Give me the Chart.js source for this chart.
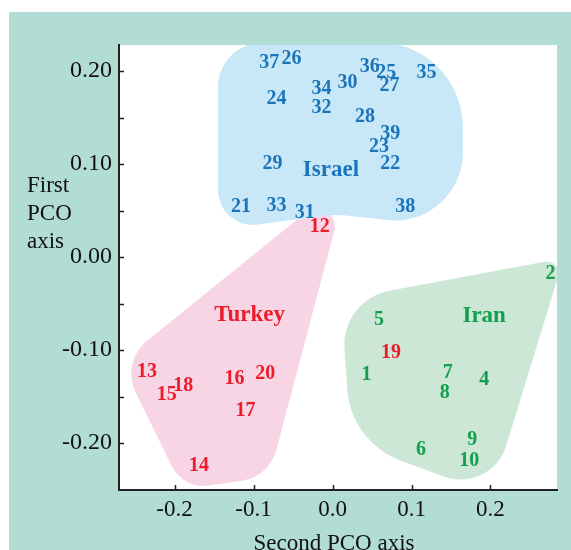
<!DOCTYPE html>
<html>
<head>
<meta charset="utf-8">
<script src="https://cdn.jsdelivr.net/npm/chart.js@4.4.1/dist/chart.umd.min.js"></script>
<style>
  html, body { margin: 0; padding: 0; background: #fff; }
  canvas { display: block; }
</style>
</head>
<body>
<canvas id="pco" width="571" height="550"></canvas>
<script>
// Point labels (sample numbers) and their PCO coordinates
const israelIds = ['37','26','36','25','35','34','30','27','24','32','28','39','23','22','29','21','33','31','38'];
const israelX = [-0.080,-0.052,0.047,0.068,0.119,-0.014,0.019,0.072,-0.071,-0.014,0.041,0.073,0.059,0.073,-0.076,-0.116,-0.071,-0.035,0.092];
const israelY = [0.209,0.213,0.205,0.198,0.198,0.181,0.187,0.184,0.170,0.160,0.151,0.132,0.119,0.100,0.100,0.054,0.055,0.048,0.054];

const turkeyIds = ['12','13','18','15','16','20','17','14','19'];
const turkeyX = [-0.016,-0.235,-0.189,-0.210,-0.124,-0.085,-0.110,-0.169,0.074];
const turkeyY = [0.033,-0.123,-0.138,-0.148,-0.131,-0.126,-0.165,-0.224,-0.103];

const iranIds = ['2','5','1','7','8','4','9','6','10'];
const iranX = [0.276,0.059,0.043,0.146,0.142,0.192,0.177,0.112,0.173];
const iranY = [-0.018,-0.068,-0.127,-0.125,-0.146,-0.132,-0.197,-0.207,-0.219];

// Group names and where they sit
const groupNames = ['Israel','Turkey','Iran'];
const groupX = [-0.002,-0.105,0.192];
const groupY = [0.093,-0.062,-0.064];

// Outline corners of the shaded regions (data units)
const israelHullX = [-0.145,0.165,0.165,0.001,-0.145];
const israelHullY = [0.231,0.231,0.031,0.046,0.029];
const turkeyHullX = [0.020,-0.268,-0.189,-0.080];
const turkeyHullY = [0.085,-0.113,-0.250,-0.236];
const iranHullX = [0.293,0.011,0.023,0.201];
const iranHullY = [-0.001,-0.046,-0.199,-0.255];

// Axes
const xTicks = [-0.2,-0.1,0.0,0.1,0.2];
const yTicks = [-0.2,-0.1,0.0,0.1,0.2];
const yMinorTicks = [-0.2,-0.15,-0.1,-0.05,0.0,0.05,0.1,0.15,0.2];

const BLUE = '#1c75bc', RED = '#ec1c2a', GREEN = '#12a04c';
const TEAL = '#b2ddd4';
const SERIF = '"Liberation Serif", "Times New Roman", serif';

const pts = (xs, ys) => xs.map((x, i) => ({ x, y: ys[i] }));

// Turkey first so the blue region sits over its tip
const regions = [
  { xs: turkeyHullX, ys: turkeyHullY, fill: '#f8d5e4', radii: [18,42,36,42] },
  { xs: israelHullX, ys: israelHullY, fill: '#c8e8f7', radii: [45,85,68,100,35] },
  { xs: iranHullX,   ys: iranHullY,   fill: '#cde7d6', radii: [12,55,82,48] }
];

const backdrop = {
  id: 'backdrop',
  beforeDraw(chart) {
    const { ctx, chartArea: a } = chart;
    ctx.save();
    ctx.fillStyle = '#fff';
    ctx.fillRect(0, 0, chart.width, chart.height);
    ctx.fillStyle = TEAL;
    ctx.fillRect(9, 12, chart.width - 9, chart.height - 12);
    ctx.fillStyle = '#fff';
    ctx.fillRect(a.left, a.top, a.right - a.left, a.bottom - a.top);
    ctx.restore();
  }
};

const hulls = {
  id: 'hulls',
  beforeDatasetsDraw(chart) {
    const { ctx, chartArea: a, scales: { x, y } } = chart;
    ctx.save();
    ctx.beginPath();
    ctx.rect(a.left, a.top, a.right - a.left, a.bottom - a.top);
    ctx.clip();
    regions.forEach(r => {
      const p = r.xs.map((v, i) => ({ x: x.getPixelForValue(v), y: y.getPixelForValue(r.ys[i]) }));
      const n = p.length;
      ctx.beginPath();
      ctx.moveTo((p[n-1].x + p[0].x) / 2, (p[n-1].y + p[0].y) / 2);
      for (let i = 0; i < n; i++) {
        const q = p[(i + 1) % n];
        ctx.arcTo(p[i].x, p[i].y, q.x, q.y, r.radii[i]);
      }
      ctx.closePath();
      ctx.fillStyle = r.fill;
      ctx.fill();
    });
    ctx.restore();
  }
};

const pointLabels = {
  id: 'pointLabels',
  afterDatasetsDraw(chart) {
    const ctx = chart.ctx;
    chart.data.datasets.forEach((ds, i) => {
      const meta = chart.getDatasetMeta(i);
      ctx.save();
      ctx.font = `bold ${ds.textSize}px ${SERIF}`;
      ctx.textAlign = 'center';
      ctx.textBaseline = 'middle';
      meta.data.forEach((el, j) => {
        ctx.fillStyle = Array.isArray(ds.textColor) ? ds.textColor[j] : ds.textColor;
        ctx.fillText(ds.texts[j], el.x, el.y);
      });
      ctx.restore();
    });
  }
};

// inward tick marks + axis titles
const axisExtras = {
  id: 'axisExtras',
  afterDraw(chart) {
    const { ctx, chartArea: a, scales: { x, y } } = chart;
    ctx.save();
    ctx.strokeStyle = '#222';
    ctx.lineWidth = 1.5;
    ctx.beginPath();
    yMinorTicks.forEach(v => {
      const py = Math.round(y.getPixelForValue(v)) + 0.5;
      ctx.moveTo(a.left, py); ctx.lineTo(a.left + 5, py);
    });
    xTicks.forEach(v => {
      const px = Math.round(x.getPixelForValue(v)) + 0.5;
      ctx.moveTo(px, a.bottom); ctx.lineTo(px, a.bottom - 5);
    });
    ctx.stroke();

    ctx.fillStyle = '#111';
    ctx.font = `23px ${SERIF}`;
    ctx.textAlign = 'center';
    ctx.textBaseline = 'alphabetic';
    ctx.fillText('Second PCO axis', 334, 550);
    ctx.textAlign = 'left';
    ctx.textBaseline = 'middle';
    ['First', 'PCO', 'axis'].forEach((t, i) => ctx.fillText(t, 27, 186 + i * 28));
    ctx.restore();
  }
};

new Chart(document.getElementById('pco'), {
  type: 'scatter',
  data: {
    datasets: [
      { label: 'Israel', data: pts(israelX, israelY), texts: israelIds, textColor: BLUE, textSize: 20, pointRadius: 0 },
      { label: 'Turkey', data: pts(turkeyX, turkeyY), texts: turkeyIds, textColor: RED, textSize: 20, pointRadius: 0 },
      { label: 'Iran', data: pts(iranX, iranY), texts: iranIds, textColor: GREEN, textSize: 20, pointRadius: 0 },
      { label: 'groups', data: pts(groupX, groupY), texts: groupNames, textColor: [BLUE, RED, GREEN], textSize: 23, pointRadius: 0 }
    ]
  },
  options: {
    responsive: false,
    animation: false,
    layout: { padding: { left: 0, top: 45, right: 14, bottom: 0 } },
    plugins: { legend: { display: false }, tooltip: { enabled: false } },
    scales: {
      x: {
        type: 'linear',
        min: -0.2703, max: 0.2842,
        afterBuildTicks: s => { s.ticks = xTicks.map(v => ({ value: v })); },
        afterFit: s => { s.height = 60; },
        grid: { display: false, drawTicks: false },
        border: { display: true, color: '#222', width: 2 },
        ticks: { color: '#111', padding: 6, font: { family: SERIF, size: 23 }, callback: v => v.toFixed(1), maxRotation: 0 }
      },
      y: {
        type: 'linear',
        min: -0.2505, max: 0.228,
        afterBuildTicks: s => { s.ticks = yTicks.map(v => ({ value: v })); },
        afterFit: s => { s.width = 119; },
        grid: { display: false, drawTicks: false },
        border: { display: true, color: '#222', width: 2 },
        ticks: { color: '#111', padding: 7, font: { family: SERIF, size: 24 }, callback: v => v.toFixed(2) }
      }
    }
  },
  plugins: [backdrop, hulls, pointLabels, axisExtras]
});
</script>
</body>
</html>
